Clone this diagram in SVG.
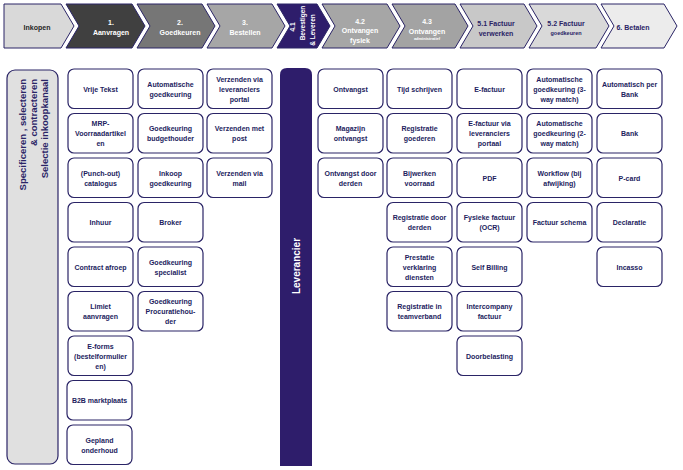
<svg xmlns="http://www.w3.org/2000/svg" width="683" height="470" viewBox="0 0 683 470">
<style>
.chev{stroke:#2a2466;stroke-width:1}
.ht{font-family:'Liberation Sans',Arial,sans-serif;font-weight:bold;font-size:7px;text-anchor:middle}
.w{fill:#ffffff}
.n{fill:#2a2466}
.card{fill:#ffffff;stroke:#2a2466;stroke-width:1.2}
.ct{font-family:'Liberation Sans',Arial,sans-serif;font-weight:bold;font-size:7px;fill:#231d5e;text-anchor:middle}
</style>
<rect x="0" y="0" width="683" height="470" fill="#ffffff"/>

<!-- Header chevrons -->
<g id="h-inkopen"><path class="chev" fill="#d9d9d9" d="M4,4 H61 L74,26 L61,48 H4 Z"/><text class="ht" fill="#262626" x="37" y="30">Inkopen</text></g>
<g id="h-aanvragen"><path class="chev" fill="#404040" d="M66,4 H132 L145,26 L132,48 H66 L79,26 Z"/><text class="ht w"><tspan x="111" y="24.5">1.</tspan><tspan x="111" y="35">Aanvragen</tspan></text></g>
<g id="h-goedkeuren"><path class="chev" fill="#767676" d="M137,4 H202 L215,26 L202,48 H137 L150,26 Z"/><text class="ht w"><tspan x="180" y="24.5">2.</tspan><tspan x="180" y="35">Goedkeuren</tspan></text></g>
<g id="h-bestellen"><path class="chev" fill="#a6a6a6" d="M207,4 H272 L285,26 L272,48 H207 L220,26 Z"/><text class="ht w"><tspan x="245" y="24.5">3.</tspan><tspan x="245" y="35">Bestellen</tspan></text></g>
<g id="h-bevestigen"><path class="chev" fill="#2e1d6b" d="M277,4 H317 L330,26 L317,48 H277 L290,26 Z"/>
<text class="ht w" style="font-size:6.5px" transform="translate(295,27) rotate(-90)">4.1</text>
<text class="ht w" style="font-size:6.5px" transform="translate(305,23) rotate(-90)">Bevestigen</text>
<text class="ht w" style="font-size:6.5px" transform="translate(315,30) rotate(-90)">&amp; Leveren</text></g>
<g id="h-fysiek"><path class="chev" fill="#a6a6a6" d="M322,4 H387 L400,26 L387,48 H322 L335,26 Z"/><text class="ht w"><tspan x="360" y="23.5">4.2</tspan><tspan x="360" y="33">Ontvangen</tspan><tspan x="360" y="42.5">fysiek</tspan></text></g>
<g id="h-administratief"><path class="chev" fill="#a3a3a3" d="M392,4 H455 L468,26 L455,48 H392 L405,26 Z"/><text class="ht w"><tspan x="427" y="23.5">4.3</tspan><tspan x="427" y="33.5">Ontvangen</tspan><tspan x="427" y="40" style="font-size:4px">administratief</tspan></text></g>
<g id="h-verwerken"><path class="chev" fill="#c8c8c8" d="M460,4 H524 L537,26 L524,48 H460 L473,26 Z"/><text class="ht n"><tspan x="496" y="26">5.1 Factuur</tspan><tspan x="496" y="36">verwerken</tspan></text></g>
<g id="h-goedkeuren2"><path class="chev" fill="#d9d9d9" d="M529,4 H596 L609,26 L596,48 H529 L542,26 Z"/><text class="ht n"><tspan x="566" y="26">5.2 Factuur</tspan><tspan x="566" y="35" font-size="5.5">goedkeuren</tspan></text></g>
<g id="h-betalen"><path class="chev" fill="#ececec" d="M601,4 H664 L677,26 L664,48 H601 L614,26 Z"/><text class="ht n" x="633" y="30">6. Betalen</text></g>

<!-- Left side box -->
<g id="selectie">
<rect x="7" y="70" width="51" height="394" rx="8" fill="#e0e0e0" stroke="#2a2466" stroke-width="1.2"/>
<g style="font-family:'Liberation Sans',Arial,sans-serif;font-weight:bold;font-size:9.5px;fill:#2a2466" text-anchor="end">
<text transform="translate(25.5,79) rotate(-90)">Specificeren , selecteren</text>
<text transform="translate(36.5,79) rotate(-90)">&amp; contracteren</text>
<text transform="translate(48,79) rotate(-90)">Selectie inkoopkanaal</text>
</g>
</g>

<!-- Leverancier bar -->
<g id="leverancier">
<path d="M280,75 Q280,68 287,68 H305 Q312,68 312,75 V466 H280 Z" fill="#2e1d6b"/>
<text transform="translate(299.5,266) rotate(-90)" text-anchor="middle" style="font-family:'Liberation Sans',Arial,sans-serif;font-weight:bold;font-size:10px;fill:#ffffff">Leverancier</text>
</g>

<g id="connectors"/>

<!-- Column 1: Aanvragen -->
<g id="c1r0"><rect class="card" x="68" y="69" width="65" height="39.5" rx="6"/><text class="ct" x="100.5" y="91.5">Vrije Tekst</text></g>
<g id="c1r1"><rect class="card" x="68" y="113.5" width="65" height="39.5" rx="6"/><text class="ct"><tspan x="100.5" y="126">MRP-</tspan><tspan x="100.5" y="136">Voorraadartikel</tspan><tspan x="100.5" y="146">en</tspan></text></g>
<g id="c1r2"><rect class="card" x="68" y="158" width="65" height="39.5" rx="6"/><text class="ct"><tspan x="100.5" y="175.5">(Punch-out)</tspan><tspan x="100.5" y="185.5">catalogus</tspan></text></g>
<g id="c1r3"><rect class="card" x="68" y="202.5" width="65" height="39.5" rx="6"/><text class="ct" x="100.5" y="225">Inhuur</text></g>
<g id="c1r4"><rect class="card" x="68" y="247" width="65" height="39.5" rx="6"/><text class="ct" x="100.5" y="269.5">Contract afroep</text></g>
<g id="c1r5"><rect class="card" x="68" y="291.5" width="65" height="39.5" rx="6"/><text class="ct"><tspan x="100.5" y="309">Limiet</tspan><tspan x="100.5" y="319">aanvragen</tspan></text></g>
<g id="c1r6"><rect class="card" x="68" y="336" width="65" height="39.5" rx="6"/><text class="ct"><tspan x="100.5" y="348.5">E-forms</tspan><tspan x="100.5" y="358.5">(bestelformulier</tspan><tspan x="100.5" y="368.5">en)</tspan></text></g>
<g id="c1r7"><rect class="card" x="67" y="380.5" width="65" height="39.5" rx="6"/><text class="ct" x="99.5" y="403">B2B marktplaats</text></g>
<g id="c1r8"><rect class="card" x="67" y="425" width="65" height="39.5" rx="6"/><text class="ct"><tspan x="99.5" y="442.5">Gepland</tspan><tspan x="99.5" y="452.5">onderhoud</tspan></text></g>

<!-- Column 2: Goedkeuren -->
<g id="c2r0"><rect class="card" x="138" y="69" width="65" height="39.5" rx="6"/><text class="ct"><tspan x="170.5" y="86.5">Automatische</tspan><tspan x="170.5" y="96.5">goedkeuring</tspan></text></g>
<g id="c2r1"><rect class="card" x="138" y="113.5" width="65" height="39.5" rx="6"/><text class="ct"><tspan x="170.5" y="131">Goedkeuring</tspan><tspan x="170.5" y="141">budgethouder</tspan></text></g>
<g id="c2r2"><rect class="card" x="138" y="158" width="65" height="39.5" rx="6"/><text class="ct"><tspan x="170.5" y="175.5">Inkoop</tspan><tspan x="170.5" y="185.5">goedkeuring</tspan></text></g>
<g id="c2r3"><rect class="card" x="138" y="202.5" width="65" height="39.5" rx="6"/><text class="ct" x="170.5" y="225">Broker</text></g>
<g id="c2r4"><rect class="card" x="138" y="247" width="65" height="39.5" rx="6"/><text class="ct"><tspan x="170.5" y="264.5">Goedkeuring</tspan><tspan x="170.5" y="274.5">specialist</tspan></text></g>
<g id="c2r5"><rect class="card" x="138" y="291.5" width="65" height="39.5" rx="6"/><text class="ct"><tspan x="170.5" y="304">Goedkeuring</tspan><tspan x="170.5" y="314">Procuratiehou-</tspan><tspan x="170.5" y="324">der</tspan></text></g>

<!-- Column 3: Bestellen -->
<g id="c3r0"><rect class="card" x="207" y="69" width="65" height="39.5" rx="6"/><text class="ct"><tspan x="239.5" y="81.5">Verzenden via</tspan><tspan x="239.5" y="91.5">leveranciers</tspan><tspan x="239.5" y="101.5">portal</tspan></text></g>
<g id="c3r1"><rect class="card" x="207" y="113.5" width="65" height="39.5" rx="6"/><text class="ct"><tspan x="239.5" y="131">Verzenden met</tspan><tspan x="239.5" y="141">post</tspan></text></g>
<g id="c3r2"><rect class="card" x="207" y="158" width="65" height="39.5" rx="6"/><text class="ct"><tspan x="239.5" y="175.5">Verzenden via</tspan><tspan x="239.5" y="185.5">mail</tspan></text></g>

<!-- Column 4.2: Ontvangen fysiek -->
<g id="c42r0"><rect class="card" x="318" y="69" width="65" height="39.5" rx="6"/><text class="ct" x="350.5" y="91.5">Ontvangst</text></g>
<g id="c42r1"><rect class="card" x="318" y="113.5" width="65" height="39.5" rx="6"/><text class="ct"><tspan x="350.5" y="131">Magazijn</tspan><tspan x="350.5" y="141">ontvangst</tspan></text></g>
<g id="c42r2"><rect class="card" x="318" y="158" width="65" height="39.5" rx="6"/><text class="ct"><tspan x="350.5" y="175.5">Ontvangst door</tspan><tspan x="350.5" y="185.5">derden</tspan></text></g>

<!-- Column 4.3: Ontvangen administratief -->
<g id="c43r0"><rect class="card" x="387" y="69" width="65" height="39.5" rx="6"/><text class="ct" x="419.5" y="91.5">Tijd schrijven</text></g>
<g id="c43r1"><rect class="card" x="387" y="113.5" width="65" height="39.5" rx="6"/><text class="ct"><tspan x="419.5" y="131">Registratie</tspan><tspan x="419.5" y="141">goederen</tspan></text></g>
<g id="c43r2"><rect class="card" x="387" y="158" width="65" height="39.5" rx="6"/><text class="ct"><tspan x="419.5" y="175.5">Bijwerken</tspan><tspan x="419.5" y="185.5">voorraad</tspan></text></g>
<g id="c43r3"><rect class="card" x="387" y="202.5" width="65" height="39.5" rx="6"/><text class="ct"><tspan x="419.5" y="220">Registratie door</tspan><tspan x="419.5" y="230">derden</tspan></text></g>
<g id="c43r4"><rect class="card" x="387" y="247" width="65" height="39.5" rx="6"/><text class="ct"><tspan x="419.5" y="259.5">Prestatie</tspan><tspan x="419.5" y="269.5">verklaring</tspan><tspan x="419.5" y="279.5">diensten</tspan></text></g>
<g id="c43r5"><rect class="card" x="387" y="291.5" width="65" height="39.5" rx="6"/><text class="ct"><tspan x="419.5" y="309">Registratie in</tspan><tspan x="419.5" y="319">teamverband</tspan></text></g>

<!-- Column 5.1: Factuur verwerken -->
<g id="c51r0"><rect class="card" x="457" y="69" width="65" height="39.5" rx="6"/><text class="ct" x="489.5" y="91.5">E-factuur</text></g>
<g id="c51r1"><rect class="card" x="457" y="113.5" width="65" height="39.5" rx="6"/><text class="ct"><tspan x="489.5" y="126">E-factuur via</tspan><tspan x="489.5" y="136">leveranciers</tspan><tspan x="489.5" y="146">portaal</tspan></text></g>
<g id="c51r2"><rect class="card" x="457" y="158" width="65" height="39.5" rx="6"/><text class="ct" x="489.5" y="180.5">PDF</text></g>
<g id="c51r3"><rect class="card" x="457" y="202.5" width="65" height="39.5" rx="6"/><text class="ct"><tspan x="489.5" y="220">Fysieke factuur</tspan><tspan x="489.5" y="230">(OCR)</tspan></text></g>
<g id="c51r4"><rect class="card" x="457" y="247" width="65" height="39.5" rx="6"/><text class="ct" x="489.5" y="269.5">Self Billing</text></g>
<g id="c51r5"><rect class="card" x="457" y="291.5" width="65" height="39.5" rx="6"/><text class="ct"><tspan x="489.5" y="309">Intercompany</tspan><tspan x="489.5" y="319">factuur</tspan></text></g>
<g id="c51r6"><rect class="card" x="457" y="336" width="65" height="39.5" rx="6"/><text class="ct" x="489.5" y="358.5">Doorbelasting</text></g>

<!-- Column 5.2: Factuur goedkeuren -->
<g id="c52r0"><rect class="card" x="527" y="69" width="65" height="39.5" rx="6"/><text class="ct"><tspan x="559.5" y="81.5">Automatische</tspan><tspan x="559.5" y="91.5">goedkeuring (3-</tspan><tspan x="559.5" y="101.5">way match)</tspan></text></g>
<g id="c52r1"><rect class="card" x="527" y="113.5" width="65" height="39.5" rx="6"/><text class="ct"><tspan x="559.5" y="126">Automatische</tspan><tspan x="559.5" y="136">goedkeuring (2-</tspan><tspan x="559.5" y="146">way match)</tspan></text></g>
<g id="c52r2"><rect class="card" x="527" y="158" width="65" height="39.5" rx="6"/><text class="ct"><tspan x="559.5" y="175.5">Workflow (bij</tspan><tspan x="559.5" y="185.5">afwijking)</tspan></text></g>
<g id="c52r3"><rect class="card" x="527" y="202.5" width="65" height="39.5" rx="6"/><text class="ct" x="559.5" y="225">Factuur schema</text></g>

<!-- Column 6: Betalen -->
<g id="c6r0"><rect class="card" x="597" y="69" width="65" height="39.5" rx="6"/><text class="ct"><tspan x="629.5" y="86.5">Automatisch per</tspan><tspan x="629.5" y="96.5">Bank</tspan></text></g>
<g id="c6r1"><rect class="card" x="597" y="113.5" width="65" height="39.5" rx="6"/><text class="ct" x="629.5" y="136">Bank</text></g>
<g id="c6r2"><rect class="card" x="597" y="158" width="65" height="39.5" rx="6"/><text class="ct" x="629.5" y="180.5">P-card</text></g>
<g id="c6r3"><rect class="card" x="597" y="202.5" width="65" height="39.5" rx="6"/><text class="ct" x="629.5" y="225">Declaratie</text></g>
<g id="c6r4"><rect class="card" x="597" y="247" width="65" height="39.5" rx="6"/><text class="ct" x="629.5" y="269.5">Incasso</text></g>
</svg>
